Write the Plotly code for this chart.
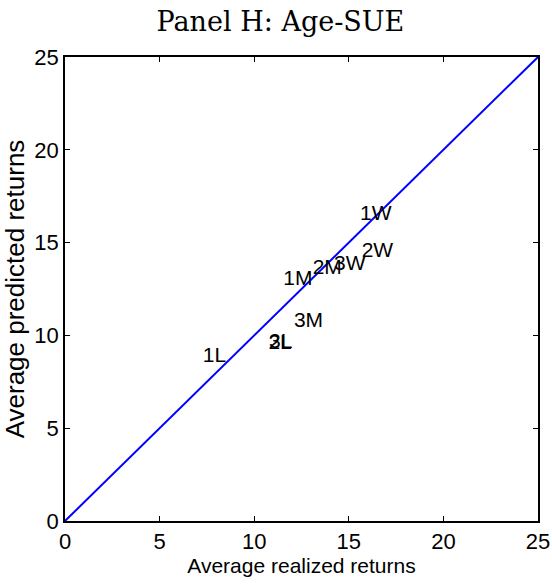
import plotly.graph_objects as go

# Portfolio labels and their average realized / predicted returns
labels = ["1W", "2W", "3W", "1M", "2M", "3M", "1L", "2L", "3L"]
realized = [15.59, 15.68, 14.22, 11.54, 13.09, 12.10, 7.28, 10.75, 10.78]
predicted = [16.49, 14.51, 13.79, 12.98, 13.58, 10.74, 8.85, 9.54, 9.62]

# 45-degree reference line
diag = [0, 25]
tick_vals = [0, 5, 10, 15, 20, 25]

SANS = "Liberation Sans, Arial"

fig = go.Figure()
fig.add_trace(go.Scatter(x=diag, y=diag, mode="lines",
                         line=dict(color="#0000ff", width=2), hoverinfo="skip"))
fig.add_trace(go.Scatter(x=realized, y=predicted, mode="text", text=labels,
                         textposition="middle right",
                         textfont=dict(family=SANS, size=21, color="black")))

axis_common = dict(range=[0, 25], tickvals=tick_vals, ticks="inside", ticklen=5,
                   tickwidth=1, tickcolor="black", showline=True, linecolor="black",
                   linewidth=1.5, mirror="ticks", showgrid=False, zeroline=False,
                   automargin=False,
                   tickfont=dict(family=SANS, size=22, color="black"))

fig.update_layout(
    width=552, height=584,
    margin=dict(l=65, r=14, t=57, b=63),
    paper_bgcolor="white", plot_bgcolor="white",
    showlegend=False,
    title=dict(text="Panel H: Age-SUE", x=0.508, xanchor="center", y=0.963, yanchor="middle",
               font=dict(family="DejaVu Serif, Liberation Serif", size=27, color="black")),
    xaxis=dict(**axis_common,
               title=dict(text="Average realized returns", standoff=0,
                          font=dict(family=SANS, size=21, color="black"))),
    yaxis=dict(**axis_common,
               title=dict(text="Average predicted returns", standoff=3,
                          font=dict(family=SANS, size=26, color="black"))),
)

fig.write_html("out.html")
